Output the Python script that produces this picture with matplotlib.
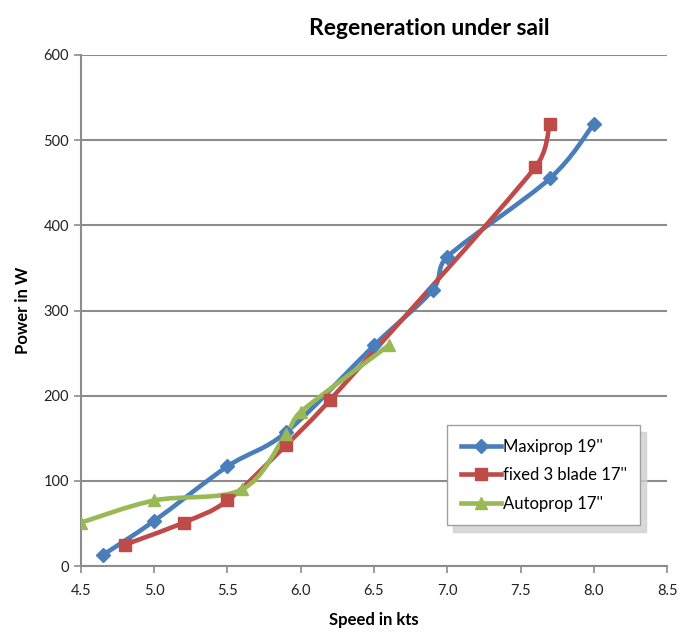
import numpy as np
import matplotlib.pyplot as plt
from matplotlib.path import Path
from matplotlib.patches import PathPatch

plt.rcParams['font.family'] = ['Lato', 'DejaVu Sans']

maxi_x = [4.65, 5.0, 5.5, 5.9, 6.5, 6.9, 7.0, 7.7, 8.0]
maxi_y = [13, 53, 117, 157, 259, 324, 363, 455, 519]
fixed_x = [4.8, 5.2, 5.5, 5.9, 6.2, 7.6, 7.7]
fixed_y = [25, 51, 77, 142, 195, 468, 519]
auto_x = [4.5, 5.0, 5.6, 5.9, 6.0, 6.6]
auto_y = [51, 77, 90, 155, 181, 259]

series = [
    ("Maxiprop 19''", maxi_x, maxi_y, "#4A7EBB", "D", 7),
    ("fixed 3 blade 17''", fixed_x, fixed_y, "#BE4B48", "s", 8),
    ("Autoprop 17''", auto_x, auto_y, "#98B954", "^", 9),
]

# rough px per unit, used to keep the smoothing sane in screen space
SX, SY = 146.5, 0.8517


def cap(v, lim):
    s = np.array([SX, SY])
    ln = np.hypot(*(v * s))
    return v if ln <= lim or ln == 0 else v * lim / ln


def smooth_path(xs, ys):
    # smoothed line like Excel: cubic bezier through the points
    p = np.column_stack([xs, ys]).astype(float)
    s = np.array([SX, SY])
    n = len(p)
    verts = [p[0]]
    codes = [Path.MOVETO]
    for i in range(n - 1):
        p0 = p[i - 1] if i > 0 else p[i]
        p1, p2 = p[i], p[i + 1]
        p3 = p[i + 2] if i + 2 < n else p[i + 1]
        d1 = np.hypot(*((p2 - p1) * s))
        c1 = p1 + cap((p2 - p0) / 6, 0.45 * d1)
        c2 = p2 - cap((p3 - p1) / 6, 0.45 * d1)
        verts += [c1, c2, p2]
        codes += [Path.CURVE4] * 3
    return Path(verts, codes)


fig = plt.figure(figsize=(6.92, 6.32), dpi=100)
ax = fig.add_axes([0.117, 0.1044, 0.847, 0.8086])

handles = []
for name, xs, ys, col, mk, ms in series:
    ax.add_patch(PathPatch(smooth_path(xs, ys), facecolor='none', edgecolor=col,
                           lw=3.3, capstyle='round', joinstyle='round', zorder=3))
    ax.plot(xs, ys, ls='none', color=col, marker=mk, ms=ms, zorder=4)
    lh, = ax.plot([], [], ls='-', lw=3.3, color=col, marker=mk, ms=ms, label=name)
    handles.append(lh)

ax.set_xlim(4.5, 8.5)
ax.set_ylim(0, 600)
ax.set_xticks(np.arange(4.5, 8.51, 0.5))
ax.set_xticklabels([f"{v:.1f}" for v in np.arange(4.5, 8.51, 0.5)])
ax.set_yticks(range(0, 601, 100))
ax.yaxis.grid(True, color='#8c8c8c', lw=1.5)
ax.set_axisbelow(True)
for s in ['top', 'right']:
    ax.spines[s].set_visible(False)
for s in ['left', 'bottom']:
    ax.spines[s].set_color('#8c8c8c')
    ax.spines[s].set_linewidth(1.5)
ax.tick_params(direction='out', length=5, width=1.2, color='#8c8c8c',
               labelsize=10.5, labelcolor='#222222')
ax.tick_params(axis='x', pad=8)

ax.set_xlabel("Speed in kts", fontsize=12, fontweight='bold', labelpad=10)
ax.set_ylabel("Power in W", fontsize=12, fontweight='bold', labelpad=9)
fig.text(0.62, 0.955, "Regeneration under sail", fontsize=16.5, fontweight='bold',
         ha='center', va='center')

leg = ax.legend(handles=handles, loc='upper left', bbox_to_anchor=(0.625, 0.275),
                frameon=True, fancybox=False,
                shadow={'color': '#d0d0d0', 'alpha': 0.8, 'ox': 4, 'oy': -5},
                fontsize=12, handlelength=2.4, handletextpad=0.15, borderpad=0.8,
                labelspacing=0.75, borderaxespad=0)
leg.get_frame().set_edgecolor('#a0a0a0')
leg.get_frame().set_linewidth(1)

fig.savefig("out.png", dpi=100)
